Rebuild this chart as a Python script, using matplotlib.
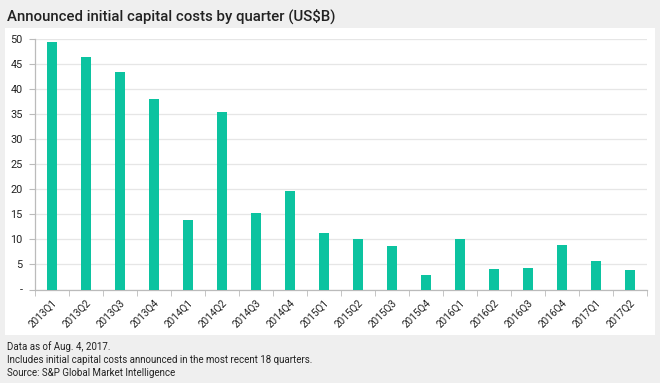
import matplotlib.pyplot as plt
from matplotlib.patches import Rectangle
from matplotlib.ticker import FixedLocator
import numpy as np

quarters = ["2013Q1", "2013Q2", "2013Q3", "2013Q4", "2014Q1", "2014Q2", "2014Q3", "2014Q4",
            "2015Q1", "2015Q2", "2015Q3", "2015Q4", "2016Q1", "2016Q2", "2016Q3", "2016Q4",
            "2017Q1", "2017Q2"]
costs = [49.5, 46.4, 43.5, 38.0, 13.8, 35.5, 15.2, 19.7,
         11.3, 10.1, 8.7, 2.9, 10.1, 4.1, 4.2, 8.9,
         5.7, 3.8]
yticks = [0, 5, 10, 15, 20, 25, 30, 35, 40, 45, 50]
ylabels = ["-"] + [str(v) for v in yticks[1:]]

W, H = 660, 383
fnt = ["Roboto", "DejaVu Sans"]

fig = plt.figure(figsize=(W / 100, H / 100), dpi=100, facecolor="#efefef")
# white panel behind the chart
fig.patches.append(Rectangle((5 / W, 1 - 335 / H), 650 / W, 307 / H,
                             transform=fig.transFigure, facecolor="white",
                             edgecolor="none", zorder=-5))

ax = fig.add_axes([35 / W, 1 - 289.5 / H, 612 / W, 250.2 / H])
ax.set_facecolor("none")
x = np.arange(len(quarters))
ax.bar(x, costs, width=0.31, color="#0cc3a0", zorder=3)

ax.set_xlim(-0.5, len(quarters) - 0.5)
ax.set_ylim(0, 50)
ax.set_yticks(yticks)
ax.set_yticklabels(ylabels, fontsize=7.8, family=fnt, color="#222222")
ax.yaxis.grid(True, color="#e6e6e6", lw=0.9, zorder=0)

ax.set_xticks(x)
ax.set_xticklabels(quarters, rotation=45, ha="right", rotation_mode="anchor",
                   fontsize=7.2, family=fnt, color="#222222")
ax.xaxis.set_minor_locator(FixedLocator(np.arange(-0.5, len(quarters), 1)))
ax.tick_params(axis="x", which="major", length=0, pad=6)
ax.tick_params(axis="x", which="minor", length=4, color="#bbbbbb")
ax.tick_params(axis="y", length=4, color="#bbbbbb", pad=5)

for s in ["top", "right"]:
    ax.spines[s].set_visible(False)
for s in ["left", "bottom"]:
    ax.spines[s].set_color("#bbbbbb")
    ax.spines[s].set_linewidth(0.9)

fig.text(7 / W, 1 - 16 / H, "Announced initial capital costs by quarter (US$B)",
         fontsize=10.8, family=fnt, weight="medium", color="#222222", va="center")
notes = ["Data as of Aug. 4, 2017.",
         "Includes initial capital costs announced in the most recent 18 quarters.",
         "Source: S&P Global Market Intelligence"]
for i, t in enumerate(notes):
    fig.text(7 / W, 1 - (347 + 13 * i) / H, t, fontsize=7, family=fnt,
             color="#222222", va="center")

fig.savefig("out.png", dpi=100, facecolor=fig.get_facecolor())
